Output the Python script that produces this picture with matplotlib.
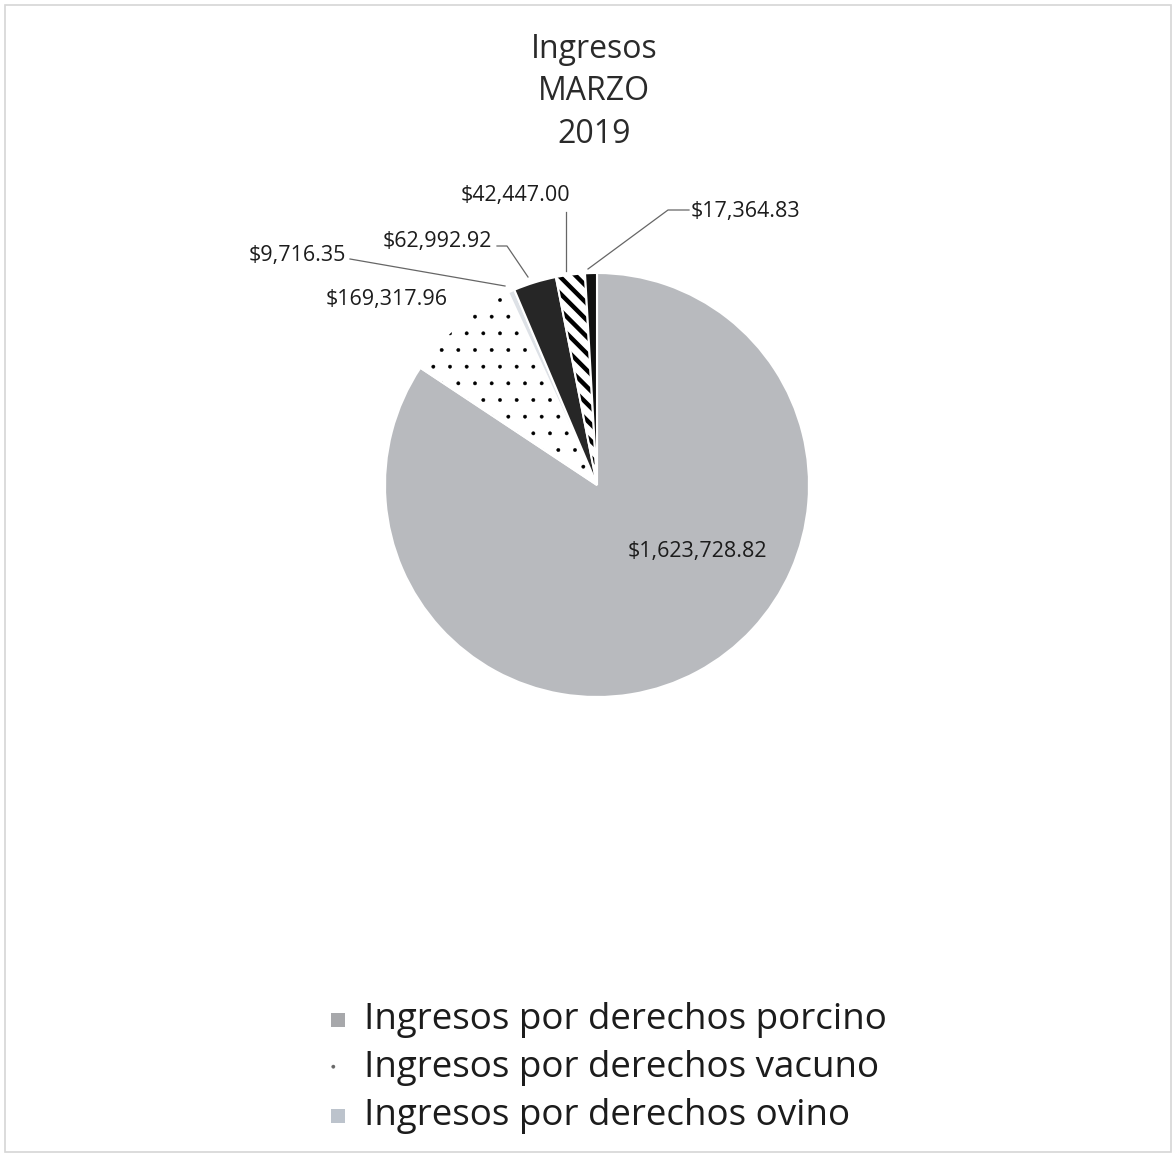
import matplotlib.pyplot as plt
from matplotlib.patches import Rectangle

plt.rcParams['font.family'] = ['Open Sans', 'DejaVu Sans']

# data (order: clockwise from 12 o'clock)
categorias = ["Ingresos por derechos porcino", "Ingresos por derechos vacuno",
              "Ingresos por derechos ovino", "Ingresos por derechos caprino",
              "Ingresos por derechos aves", "Otros ingresos"]
valores = [1623728.82, 169317.96, 9716.35, 62992.92, 42447.00, 17364.83]
etiquetas = ["$1,623,728.82", "$169,317.96", "$9,716.35", "$62,992.92",
             "$42,447.00", "$17,364.83"]

colores = ["#b8babe", "white", "#dde1e6", "#262626", "white", "#111111"]
tramas = [None, ".", None, None, "\\\\", None]
grosor_trama = [0, 0.3, 0, 0, 3.2, 0]

fig = plt.figure(figsize=(11.76, 11.58), dpi=100)
W, H = 1176, 1158
txt = "#1c1c1c"

# pie centre ~ (597, 485) px, radius ~212 px
cx, cy, r = 597, 485, 212
ax = fig.add_axes([(cx - r) / W, (H - cy - r) / H, 2 * r / W, 2 * r / H])

wedges, _ = ax.pie(valores, colors=colores, startangle=90, counterclock=False,
                   radius=1, wedgeprops=dict(edgecolor="white", linewidth=1.5))
for w, h, lw in zip(wedges, tramas, grosor_trama):
    if h:
        w.set_hatch(h)
        w._hatch_color = (0, 0, 0, 1)
        w._hatch_linewidth = lw
ax.set_xlim(-1, 1)
ax.set_ylim(-1, 1)
ax.set_aspect("equal")
ax.axis("off")


def px(x, y):
    # pixel coords -> figure fraction
    return x / W, 1 - y / H


fs_lab = 15.5
# labels inside / next to the pie
fig.text(*px(697, 551), etiquetas[0], fontsize=fs_lab, ha="center", va="center", color=txt)
fig.text(*px(387, 300), etiquetas[1], fontsize=fs_lab, ha="center", va="center", color=txt)

# labels with leader lines: (text centre, leader points)
fuera = {
    2: ((297, 255), [(350, 259), (505, 286)]),
    3: ((437, 241), [(497, 246), (507, 246), (528, 277)]),
    4: ((515, 196), [(566, 212), (566, 271)]),
    5: ((745, 211), [(689, 210), (668, 210), (588, 269)]),
}
for i, ((tx, ty), pts) in fuera.items():
    fig.text(*px(tx, ty), etiquetas[i], fontsize=fs_lab, ha="center", va="center", color=txt)
    xs = [p[0] / W for p in pts]
    ys = [1 - p[1] / H for p in pts]
    fig.add_artist(plt.Line2D(xs, ys, color="#666666", linewidth=0.9))

# title
fig.text(*px(594, 92), "Ingresos\nMARZO\n2019", fontsize=23, ha="center", va="center",
         color="#2a2a2a", linespacing=1.38)

# legend (only the first three entries are visible)
leg_y = [1020, 1068, 1116]
leg_col = ["#a7a8ab", "white", "#bcc3cc"]
for i, yy in enumerate(leg_y):
    fig.text(*px(364, yy), categorias[i], fontsize=26.5, ha="left", va="center", color=txt)
    sq = Rectangle((331 / W, 1 - (yy + 7) / H), 14 / W, 14 / H, transform=fig.transFigure,
                   facecolor=leg_col[i], edgecolor="none")
    if i == 1:
        sq.set_hatch(".")
        sq._hatch_color = (0.4, 0.4, 0.4, 1)
        sq._hatch_linewidth = 0.3
    fig.add_artist(sq)

# thin scan frame
fig.add_artist(Rectangle((5 / W, 6 / H), 1166 / W, 1147 / H, transform=fig.transFigure,
                         fill=False, edgecolor="#d6d6d6", linewidth=1.2))

fig.savefig("out.png", dpi=100, facecolor="white")
